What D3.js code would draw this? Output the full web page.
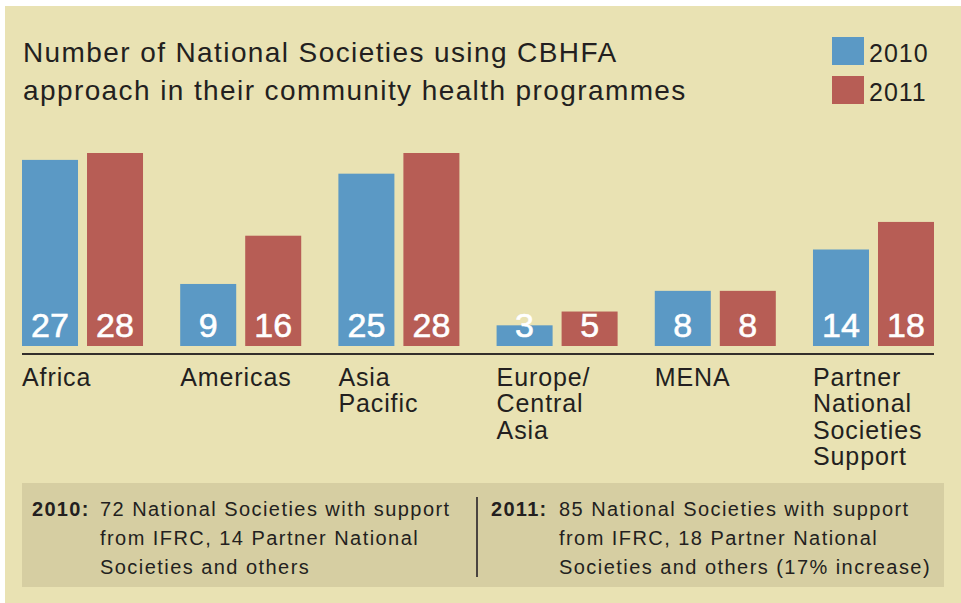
<!DOCTYPE html>
<html><head><meta charset="utf-8">
<script src="https://cdn.jsdelivr.net/npm/d3@7"></script>
<style>
html,body{margin:0;padding:0;background:#fff;}
svg{display:block;}
text{font-family:"Liberation Sans",Arial,Helvetica,sans-serif;}
</style></head>
<body>
<svg id="chart" width="961" height="603"></svg>
<script>
const categories = ["Africa","Americas","Asia Pacific","Europe/Central Asia","MENA","Partner National Societies Support"];
const categoryLines = [["Africa"],["Americas"],["Asia","Pacific"],["Europe/","Central","Asia"],["MENA"],["Partner","National","Societies","Support"]];
const seriesNames = ["2010","2011"];
const values2010 = [27, 9, 25, 3, 8, 14];
const values2011 = [28, 16, 28, 5, 8, 18];
const titleLines = ["Number of National Societies using CBHFA","approach in their community health programmes"];
const notes = [
  {year:"2010:", lines:["72 National Societies with support","from IFRC, 14 Partner National","Societies and others"]},
  {year:"2011:", lines:["85 National Societies with support","from IFRC, 18 Partner National","Societies and others (17% increase)"]}
];

const colors = {"2010":"#5b99c5","2011":"#b75d55"};
const bg = "#e9e2b3", boxBg = "#d6cea2", ink = "#231f20";

const svg = d3.select("#chart");
svg.append("rect").attr("x",5).attr("y",6).attr("width",956).attr("height",597).attr("fill",bg);

// title
svg.append("g").selectAll("text").data(titleLines).join("text")
  .attr("x",23).attr("y",(d,i)=>62+i*38)
  .attr("font-size",28).attr("letter-spacing",1.4).attr("fill",ink).text(d=>d);

// legend
const leg = svg.append("g").selectAll("g").data(seriesNames).join("g")
  .attr("transform",(d,i)=>`translate(832,${37+i*39})`);
leg.append("rect").attr("width",32).attr("height",28).attr("fill",d=>colors[d]);
leg.append("text").attr("x",37).attr("y",25).attr("font-size",25).attr("letter-spacing",1).attr("fill",ink).text(d=>d);

// scales
const x0 = d3.scaleBand().domain(categories).range([22,934]).paddingInner(0.235).paddingOuter(0);
const x1 = d3.scaleBand().domain(seriesNames).range([0,x0.bandwidth()]).paddingInner(9/65).paddingOuter(0);
const y = d3.scaleLinear().domain([0,28]).range([346,153]);

const rows = categories.map((c,i)=>({cat:c, vals:[{s:"2010",v:values2010[i]},{s:"2011",v:values2011[i]}]}));

const groups = svg.append("g").selectAll("g").data(rows).join("g")
  .attr("transform",d=>`translate(${x0(d.cat)},0)`);
groups.selectAll("rect").data(d=>d.vals).join("rect")
  .attr("x",d=>x1(d.s)).attr("y",d=>y(d.v)).attr("width",x1.bandwidth())
  .attr("height",d=>y(0)-y(d.v)).attr("fill",d=>colors[d.s]);
groups.selectAll("text.val").data(d=>d.vals).join("text").attr("class","val")
  .attr("x",d=>x1(d.s)+x1.bandwidth()/2).attr("y",y(0)-9)
  .attr("text-anchor","middle").attr("font-size",34).attr("fill","#fff")
  .attr("stroke","#fff").attr("stroke-width",0.6)
  .text(d=>d.v);

// axis line
svg.append("line").attr("x1",x0.range()[0]).attr("x2",x0.range()[1]).attr("y1",354).attr("y2",354)
  .attr("stroke","#332e2b").attr("stroke-width",2);

// category labels
groups.append("text").attr("font-size",25).attr("letter-spacing",0.9).attr("fill",ink)
  .selectAll("tspan").data((d,i)=>categoryLines[i]).join("tspan")
  .attr("x",0).attr("y",(d,i)=>386+i*26.3).text(d=>d);

// notes box
svg.append("rect").attr("x",22).attr("y",483).attr("width",922).attr("height",104).attr("fill",boxBg);
svg.append("line").attr("x1",477).attr("x2",477).attr("y1",497).attr("y2",577).attr("stroke","#4a4440").attr("stroke-width",2);
const noteX = [[32,100],[491,559]];
const ng = svg.append("g").selectAll("g").data(notes).join("g");
ng.append("text").attr("x",(d,i)=>noteX[i][0]).attr("y",516).attr("font-size",20).attr("letter-spacing",1.3).attr("font-weight","bold").attr("fill",ink).text(d=>d.year);
ng.each(function(d,i){
  d3.select(this).append("text").attr("font-size",20).attr("letter-spacing",1.45).attr("fill",ink)
    .selectAll("tspan").data(d.lines).join("tspan")
    .attr("x",noteX[i][1]).attr("y",(t,j)=>516+j*29).text(t=>t);
});
</script>
</body></html>
